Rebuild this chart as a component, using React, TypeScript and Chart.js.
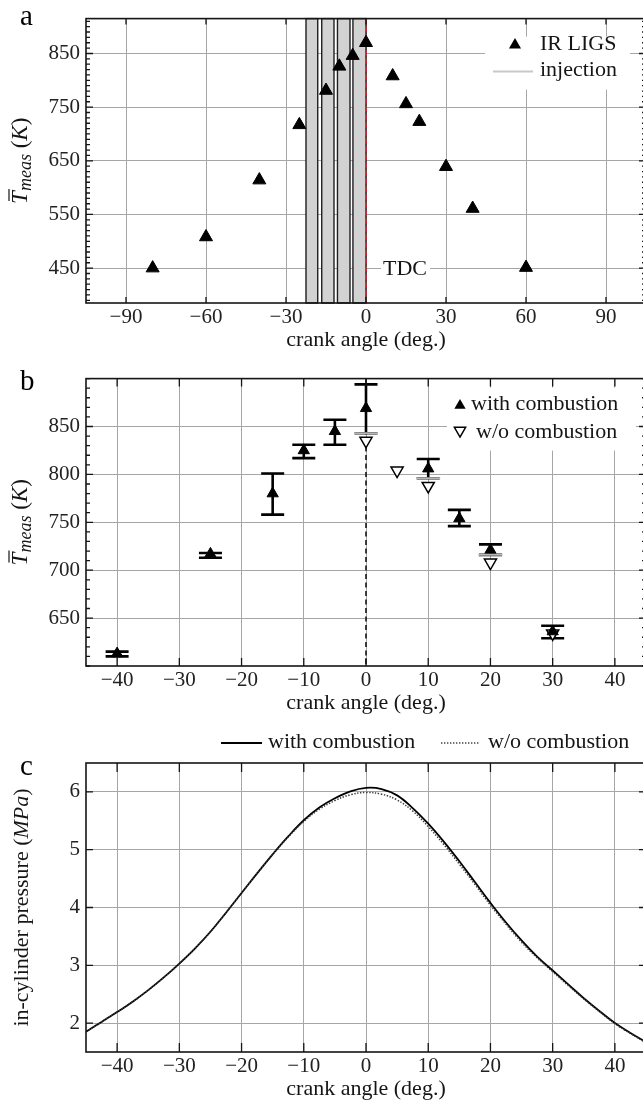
import React, { useEffect, useRef } from "react";
import { Chart, registerables } from "chart.js";
Chart.register(...registerables);

// ---------------- data: panel a ----------------
const angleA = [-80, -60, -40, -25, -15, -10, -5, 0, 10, 15, 20, 30, 40, 60];
const tempA = [450, 508, 614, 717, 781, 826, 846, 870, 808, 756, 723, 639, 561, 451];
const injStart = [-22.5, -16.6, -10.7, -4.9];
const injEnd = [-18.1, -12.0, -6.0, 0];
const xTicksA = [-90, -60, -30, 0, 30, 60, 90];
const yTicksA = [450, 550, 650, 750, 850];

// ---------------- data: panel b ----------------
const angleWith = [-40, -25, -15, -10, -5, 0, 10, 15, 20, 30];
const tempWith = [613, 717, 780, 825, 845, 869, 806, 754, 721, 636];
const tempWithLow = [610, 713, 758, 817, 831, 843, 796, 746, 716, 629];
const tempWithHigh = [615, 718, 801, 831, 857, 894, 816, 763, 727, 642];
const angleWithout = [0, 5, 10, 20, 30];
const tempWithout = [835, 804, 788, 708, 634];
const tempWithoutHigh: (number | null)[] = [843, null, 796, 716, null];
const xTicksBC = [-40, -30, -20, -10, 0, 10, 20, 30, 40];
const yTicksB = [650, 700, 750, 800, 850];

// ---------------- data: panel c ----------------
const angleC = [-45, -42.5, -40, -37.5, -35, -32.5, -30, -27.5, -25, -22.5, -20, -17.5, -15, -12.5, -10, -7.5, -5, -2.5, 0, 2.5, 5, 7.5, 10, 12.5, 15, 17.5, 20, 22.5, 25, 27.5, 30, 32.5, 35, 37.5, 40, 42.5, 45];
const pressWith = [1.85, 2.02, 2.19, 2.37, 2.57, 2.79, 3.03, 3.29, 3.58, 3.91, 4.25, 4.59, 4.92, 5.23, 5.51, 5.73, 5.89, 6.01, 6.07, 6.05, 5.94, 5.72, 5.45, 5.14, 4.8, 4.44, 4.08, 3.74, 3.43, 3.15, 2.91, 2.67, 2.43, 2.21, 2.0, 1.83, 1.67];
const pressWithout = [1.85, 2.02, 2.19, 2.37, 2.57, 2.79, 3.03, 3.29, 3.58, 3.91, 4.25, 4.59, 4.92, 5.22, 5.49, 5.7, 5.85, 5.95, 5.99, 5.96, 5.86, 5.67, 5.4, 5.09, 4.75, 4.4, 4.04, 3.71, 3.4, 3.13, 2.89, 2.65, 2.42, 2.2, 1.99, 1.82, 1.66];
const yTicksC = [2, 3, 4, 5, 6];

// ---------------- styling ----------------
const SERIF = "'Liberation Serif', 'Times New Roman', serif";
const CANVAS_W = 660;
const PLOT_RIGHT = 646;
const Y_AXIS_W = 86;
const GRID = "#a6a6a6";
const INK = "#151515";

Chart.defaults.font.family = SERIF;

function fmtTick(v: any) {
  return String(v).replace("-", "\u2212");
}

function xScale(min: number, max: number, ticks: number[], axisH: number) {
  return {
    type: "linear",
    min,
    max,
    afterBuildTicks: (s: any) => {
      s.ticks = ticks.map((v) => ({ value: v }));
    },
    afterFit: (s: any) => {
      s.height = axisH;
    },
    grid: { color: GRID, lineWidth: 1, drawTicks: false },
    border: { display: false },
    ticks: { font: { family: SERIF, size: 21 }, color: "#222", padding: 2, maxRotation: 0, autoSkip: false, callback: (v: any) => fmtTick(v) },
  };
}

function yScale(min: number, max: number, ticks: number[]) {
  return {
    type: "linear",
    min,
    max,
    afterBuildTicks: (s: any) => {
      s.ticks = ticks.map((v) => ({ value: v }));
    },
    afterFit: (s: any) => {
      s.width = Y_AXIS_W;
    },
    grid: { color: GRID, lineWidth: 1, drawTicks: false },
    border: { display: false },
    ticks: { font: { family: SERIF, size: 21 }, color: "#222", padding: 6, autoSkip: false, callback: (v: any) => fmtTick(v) },
  };
}

function drawFrame(chart: any, o: { xTicks: number[]; yTicks: number[]; xLen: number; yLen: number; yMinor?: number; minorLen?: number }) {
  const { ctx, chartArea: a, scales } = chart;
  const x = scales.x;
  const y = scales.y;
  ctx.save();
  ctx.strokeStyle = INK;
  ctx.lineWidth = 1.3;
  ctx.beginPath();
  for (const v of o.xTicks) {
    const p = x.getPixelForValue(v);
    ctx.moveTo(p, a.top);
    ctx.lineTo(p, a.top + o.xLen);
    ctx.moveTo(p, a.bottom);
    ctx.lineTo(p, a.bottom - o.xLen);
  }
  for (const v of o.yTicks) {
    const p = y.getPixelForValue(v);
    ctx.moveTo(a.left, p);
    ctx.lineTo(a.left + o.yLen, p);
    ctx.moveTo(a.right, p);
    ctx.lineTo(a.right - o.yLen, p);
  }
  if (o.yMinor) {
    const len = o.minorLen || 4;
    for (let v = Math.ceil(y.min / o.yMinor) * o.yMinor; v <= y.max; v += o.yMinor) {
      const p = y.getPixelForValue(v);
      ctx.moveTo(a.left, p);
      ctx.lineTo(a.left + len, p);
      ctx.moveTo(a.right, p);
      ctx.lineTo(a.right - len, p);
    }
  }
  ctx.stroke();
  ctx.lineWidth = 1.6;
  ctx.strokeRect(a.left, a.top, a.right - a.left, a.bottom - a.top);
  ctx.restore();
}

function drawXTitle(chart: any, text: string) {
  const { ctx, chartArea: a } = chart;
  ctx.save();
  ctx.font = `22px ${SERIF}`;
  ctx.fillStyle = INK;
  ctx.textAlign = "center";
  ctx.textBaseline = "middle";
  ctx.fillText(text, (a.left + a.right) / 2, a.bottom + 37);
  ctx.restore();
}

function drawRotatedSegments(ctx: CanvasRenderingContext2D, cx: number, cy: number, segs: { t: string; f: string; dy: number }[], overlineFirst: boolean) {
  ctx.save();
  ctx.translate(cx, cy);
  ctx.rotate(-Math.PI / 2);
  ctx.fillStyle = INK;
  ctx.strokeStyle = INK;
  ctx.textAlign = "left";
  ctx.textBaseline = "alphabetic";
  let total = 0;
  const ws = segs.map((s) => {
    ctx.font = s.f;
    const w = ctx.measureText(s.t).width;
    total += w;
    return w;
  });
  let xx = -total / 2;
  const base = 8;
  segs.forEach((s, i) => {
    ctx.font = s.f;
    ctx.fillText(s.t, xx, base + s.dy);
    if (i === 0 && overlineFirst) {
      ctx.lineWidth = 1.2;
      ctx.beginPath();
      ctx.moveTo(xx + 3, base - 18);
      ctx.lineTo(xx + ws[0] + 2, base - 18);
      ctx.stroke();
    }
    xx += ws[i];
  });
  ctx.restore();
}

function drawTempTitle(chart: any) {
  const a = chart.chartArea;
  drawRotatedSegments(
    chart.ctx,
    19,
    (a.top + a.bottom) / 2,
    [
      { t: "T", f: `italic 23px ${SERIF}`, dy: 0 },
      { t: "meas", f: `italic 18px ${SERIF}`, dy: 4 },
      { t: " (", f: `23px ${SERIF}`, dy: 0 },
      { t: "K", f: `italic 23px ${SERIF}`, dy: 0 },
      { t: ")", f: `23px ${SERIF}`, dy: 0 },
    ],
    true
  );
}

function drawPressTitle(chart: any) {
  const a = chart.chartArea;
  drawRotatedSegments(
    chart.ctx,
    20,
    (a.top + a.bottom) / 2,
    [
      { t: "in-cylinder pressure (", f: `22px ${SERIF}`, dy: 0 },
      { t: "MPa", f: `italic 22px ${SERIF}`, dy: 0 },
      { t: ")", f: `22px ${SERIF}`, dy: 0 },
    ],
    false
  );
}

function drawLetter(chart: any, letter: string, x: number, y: number) {
  const ctx = chart.ctx;
  ctx.save();
  ctx.font = `29px ${SERIF}`;
  ctx.fillStyle = "#000";
  ctx.textAlign = "left";
  ctx.textBaseline = "alphabetic";
  ctx.fillText(letter, x, y);
  ctx.restore();
}

function triangle(ctx: CanvasRenderingContext2D, x: number, y: number, r: number, up: boolean, filled: boolean) {
  const s = up ? 1 : -1;
  ctx.beginPath();
  ctx.moveTo(x, y - s * r);
  ctx.lineTo(x + r * 0.866, y + s * r * 0.5);
  ctx.lineTo(x - r * 0.866, y + s * r * 0.5);
  ctx.closePath();
  if (filled) {
    ctx.fillStyle = "#000";
    ctx.fill();
  } else {
    ctx.fillStyle = "#fff";
    ctx.fill();
    ctx.lineWidth = 1.5;
    ctx.strokeStyle = "#000";
    ctx.stroke();
  }
}

function legendText(ctx: CanvasRenderingContext2D, t: string, x: number, y: number) {
  ctx.font = `22px ${SERIF}`;
  ctx.fillStyle = INK;
  ctx.textAlign = "left";
  ctx.textBaseline = "middle";
  ctx.fillText(t, x, y);
}

// ---------------- configs ----------------
const H_A = 360;
const H_B = 360;
const H_C = 383;

function configA() {
  const pluginA = {
    id: "panelA",
    beforeDatasetsDraw(chart: any) {
      const { ctx, chartArea: a, scales } = chart;
      const x = scales.x;
      const y = scales.y;
      ctx.save();
      injStart.forEach((s, i) => {
        const x0 = x.getPixelForValue(s);
        const x1 = x.getPixelForValue(injEnd[i]);
        ctx.fillStyle = "#d2d2d2";
        ctx.fillRect(x0, a.top, x1 - x0, a.bottom - a.top);
        ctx.strokeStyle = "#1e1e1e";
        ctx.lineWidth = 1.4;
        ctx.strokeRect(x0, a.top, x1 - x0, a.bottom - a.top);
      });
      const p0 = x.getPixelForValue(0);
      ctx.strokeStyle = "#e3242b";
      ctx.lineWidth = 1.6;
      ctx.setLineDash([5, 3]);
      ctx.beginPath();
      ctx.moveTo(p0, a.top);
      ctx.lineTo(p0, a.bottom);
      ctx.stroke();
      ctx.setLineDash([]);
      const ty = y.getPixelForValue(yTicksA[0]);
      ctx.fillStyle = "#fff";
      ctx.fillRect(p0 + 15, ty - 11, 49, 22);
      ctx.font = `22px ${SERIF}`;
      ctx.fillStyle = INK;
      ctx.textAlign = "left";
      ctx.textBaseline = "middle";
      ctx.fillText("TDC", p0 + 17, ty + 1);
      ctx.restore();
    },
    afterDatasetsDraw(chart: any) {
      const { ctx, chartArea: a } = chart;
      ctx.save();
      ctx.fillStyle = "#fff";
      ctx.fillRect(a.right - 161, a.top + 18, 145, 53);
      triangle(ctx, a.right - 131, a.top + 26.5, 7, true, true);
      legendText(ctx, "IR LIGS", a.right - 106, a.top + 26);
      ctx.strokeStyle = "#c8c8c8";
      ctx.lineWidth = 2;
      ctx.beginPath();
      ctx.moveTo(a.right - 153, a.top + 53);
      ctx.lineTo(a.right - 113, a.top + 53);
      ctx.stroke();
      legendText(ctx, "injection", a.right - 106, a.top + 52);
      ctx.restore();
    },
    afterDraw(chart: any) {
      drawFrame(chart, { xTicks: xTicksA, yTicks: yTicksA, xLen: 6, yLen: 7, yMinor: 10, minorLen: 4 });
      drawXTitle(chart, "crank angle (deg.)");
      drawTempTitle(chart);
      drawLetter(chart, "a", 20, 25);
    },
  };
  return {
    type: "scatter",
    data: {
      datasets: [
        {
          label: "IR LIGS",
          data: angleA.map((v, i) => ({ x: v, y: tempA[i] })),
          pointStyle: "triangle",
          pointRadius: 7.5,
          backgroundColor: "#000",
          borderColor: "#000",
          borderWidth: 1,
        },
      ],
    },
    options: {
      responsive: false,
      animation: false,
      events: [],
      layout: { padding: { top: 12, right: CANVAS_W - PLOT_RIGHT, left: 0, bottom: 0 } },
      plugins: { legend: { display: false }, tooltip: { enabled: false } },
      scales: { x: xScale(-105, 105, xTicksA, H_A - 303), y: yScale(385, 915, yTicksA) },
    },
    plugins: [pluginA],
  };
}

function configB() {
  const pluginB = {
    id: "panelB",
    beforeDatasetsDraw(chart: any) {
      const { ctx, chartArea: a, scales } = chart;
      const x = scales.x;
      const y = scales.y;
      ctx.save();
      const p0 = x.getPixelForValue(0);
      ctx.strokeStyle = INK;
      ctx.lineWidth = 1.6;
      ctx.setLineDash([5, 3.5]);
      ctx.beginPath();
      ctx.moveTo(p0, a.top);
      ctx.lineTo(p0, a.bottom);
      ctx.stroke();
      ctx.setLineDash([]);
      ctx.strokeStyle = "#000";
      ctx.lineWidth = 2.6;
      ctx.beginPath();
      angleWith.forEach((ang, i) => {
        const px = x.getPixelForValue(ang);
        const lo = y.getPixelForValue(tempWithLow[i]);
        const hi = y.getPixelForValue(tempWithHigh[i]);
        ctx.moveTo(px, lo);
        ctx.lineTo(px, hi);
        ctx.moveTo(px - 11.5, lo);
        ctx.lineTo(px + 11.5, lo);
        ctx.moveTo(px - 11.5, hi);
        ctx.lineTo(px + 11.5, hi);
      });
      ctx.stroke();
      ctx.restore();
    },
    afterDatasetsDraw(chart: any) {
      const { ctx, chartArea: a, scales } = chart;
      const x = scales.x;
      const y = scales.y;
      ctx.save();
      ctx.strokeStyle = "#b8b8b8";
      ctx.lineWidth = 2;
      ctx.beginPath();
      angleWithout.forEach((ang, i) => {
        const h = tempWithoutHigh[i];
        if (h == null) return;
        const px = x.getPixelForValue(ang);
        const py = y.getPixelForValue(h);
        ctx.moveTo(px - 12, py);
        ctx.lineTo(px + 12, py);
      });
      ctx.stroke();
      ctx.fillStyle = "#fff";
      ctx.fillRect(a.right - 199, a.top + 9, 189, 63);
      triangle(ctx, a.right - 186, a.top + 27, 6.5, true, true);
      legendText(ctx, "with combustion", a.right - 175, a.top + 26);
      triangle(ctx, a.right - 186, a.top + 52, 6.5, false, false);
      legendText(ctx, "w/o combustion", a.right - 170, a.top + 54);
      ctx.restore();
    },
    afterDraw(chart: any) {
      drawFrame(chart, { xTicks: xTicksBC, yTicks: yTicksB, xLen: 8, yLen: 7, yMinor: 10, minorLen: 4 });
      drawXTitle(chart, "crank angle (deg.)");
      drawTempTitle(chart);
      drawLetter(chart, "b", 20, 30);
    },
  };
  return {
    type: "scatter",
    data: {
      datasets: [
        {
          label: "with combustion",
          data: angleWith.map((v, i) => ({ x: v, y: tempWith[i] })),
          pointStyle: "triangle",
          pointRadius: 6.5,
          backgroundColor: "#000",
          borderColor: "#000",
          borderWidth: 1,
        },
        {
          label: "w/o combustion",
          data: angleWithout.map((v, i) => ({ x: v, y: tempWithout[i] })),
          pointStyle: "triangle",
          rotation: 180,
          pointRadius: 7,
          backgroundColor: "#fff",
          borderColor: "#000",
          borderWidth: 1.5,
        },
      ],
    },
    options: {
      responsive: false,
      animation: false,
      events: [],
      layout: { padding: { top: 16, right: CANVAS_W - PLOT_RIGHT, left: 0, bottom: 0 } },
      plugins: { legend: { display: false }, tooltip: { enabled: false } },
      scales: { x: xScale(-45, 45, xTicksBC, H_B - 306), y: yScale(600, 900, yTicksB) },
    },
    plugins: [pluginB],
  };
}

function configC() {
  const pluginC = {
    id: "panelC",
    afterDraw(chart: any) {
      const ctx = chart.ctx;
      drawFrame(chart, { xTicks: xTicksBC, yTicks: yTicksC, xLen: 9, yLen: 7 });
      drawXTitle(chart, "crank angle (deg.)");
      drawPressTitle(chart);
      drawLetter(chart, "c", 20, 55);
      ctx.save();
      ctx.strokeStyle = "#000";
      ctx.lineWidth = 2;
      ctx.beginPath();
      ctx.moveTo(221, 23);
      ctx.lineTo(262, 23);
      ctx.stroke();
      legendText(ctx, "with combustion", 268, 22);
      ctx.strokeStyle = "#444";
      ctx.lineWidth = 1.4;
      ctx.setLineDash([1.4, 1.6]);
      ctx.beginPath();
      ctx.moveTo(441, 23);
      ctx.lineTo(480, 23);
      ctx.stroke();
      ctx.setLineDash([]);
      legendText(ctx, "w/o combustion", 488, 22);
      ctx.restore();
    },
  };
  return {
    type: "scatter",
    data: {
      datasets: [
        {
          label: "w/o combustion",
          data: angleC.map((v, i) => ({ x: v, y: pressWithout[i] })),
          showLine: true,
          pointRadius: 0,
          borderColor: "#3a3a3a",
          borderWidth: 1.5,
          borderDash: [1.4, 1.6],
          tension: 0.4,
        },
        {
          label: "with combustion",
          data: angleC.map((v, i) => ({ x: v, y: pressWith[i] })),
          showLine: true,
          pointRadius: 0,
          borderColor: "#000",
          borderWidth: 1.8,
          tension: 0.4,
        },
      ],
    },
    options: {
      responsive: false,
      animation: false,
      events: [],
      layout: { padding: { top: 43, right: CANVAS_W - PLOT_RIGHT, left: 0, bottom: 0 } },
      plugins: { legend: { display: false }, tooltip: { enabled: false } },
      scales: { x: xScale(-45, 45, xTicksBC, H_C - 332), y: yScale(1.5, 6.5, yTicksC) },
    },
    plugins: [pluginC],
  };
}

function Panel({ top, height, make }: { top: number; height: number; make: () => any }) {
  const ref = useRef<HTMLCanvasElement>(null);
  useEffect(() => {
    const chart = new Chart(ref.current as HTMLCanvasElement, make());
    return () => chart.destroy();
  }, []);
  return (
    <canvas
      ref={ref}
      width={CANVAS_W}
      height={height}
      style={{ position: "absolute", left: 0, top, width: CANVAS_W, height, display: "block" }}
    />
  );
}

export default function App() {
  return (
    <div style={{ position: "absolute", left: 0, top: 0, width: 643, height: 1103, overflow: "hidden", background: "#fff" }}>
      <Panel top={0} height={H_A} make={configA} />
      <Panel top={360} height={H_B} make={configB} />
      <Panel top={720} height={H_C} make={configC} />
    </div>
  );
}
